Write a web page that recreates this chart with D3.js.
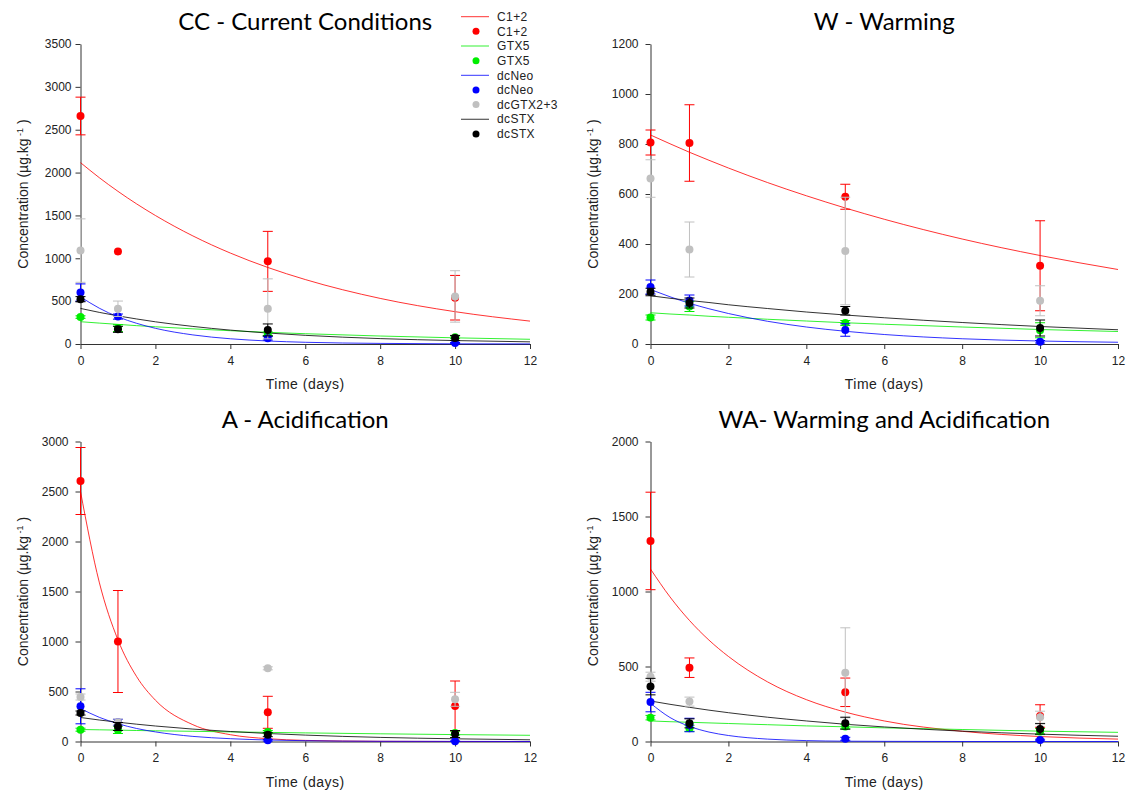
<!DOCTYPE html>
<html>
<head>
<meta charset="utf-8">
<script src="https://cdn.jsdelivr.net/npm/d3@7/dist/d3.min.js"></script>
<style>
body { margin: 0; background: #fff; }
svg text { font-family: "Liberation Sans", Arial, sans-serif; fill: #222; }
svg text.title { font-family: Lato, "Open Sans", sans-serif; fill: #000; }
</style>
</head>
<body>
<div id="chart"></div>
<script>
// sampling days and fitted-curve readout days
var days = [0, 1, 5, 10];
var fitDays = [0, 0.5, 1, 1.5, 2, 3, 4, 5, 6, 8, 10, 12];
var xTicks = [0, 2, 4, 6, 8, 10, 12];
var toxins = ["C1+2", "GTX5", "dcNeo", "dcGTX2+3", "dcSTX"];
var fitted = ["C1+2", "GTX5", "dcNeo", "dcSTX"];

// CC - current conditions (rows follow toxins)
var ccMean = [[2660, 1080, 964, 540], [314, 185, 120, 78], [601, 320, 66, 12], [1090, 411, 410, 555], [523, 171, 164, 70]];
var ccSd = [[220, 0, 350, 260], [15, 40, 20, 15], [100, 30, 20, 5], [370, 90, 350, 300], [30, 35, 70, 30]];
var ccFit = [
  [2116, 1941, 1781, 1634, 1499, 1261, 1061, 893, 752, 532, 377, 267],
  [260, 244, 229, 214, 201, 177, 155, 136, 120, 93, 72, 55],
  [550, 418, 317, 241, 183, 106, 61, 35, 20, 7, 2, 1],
  [415, 369, 328, 292, 259, 205, 162, 128, 101, 63, 40, 25]];

// W - warming
var wMean = [[806, 804, 589, 313], [106, 150, 84, 55], [228, 174, 56, 9], [662, 378, 372, 173], [208, 164, 133, 64]];
var wSd = [[50, 153, 50, 180], [10, 20, 10, 30], [28, 22, 25, 5], [75, 110, 215, 60], [15, 20, 17, 32]];
var wFit = [
  [836, 801, 767, 735, 704, 646, 593, 544, 499, 420, 354, 298],
  [125, 120, 116, 111, 107, 99, 92, 85, 79, 68, 58, 50],
  [218, 189, 163, 141, 122, 91, 68, 51, 38, 21, 12, 7],
  [193, 183, 174, 166, 157, 142, 128, 116, 105, 86, 70, 57]];

// A - acidification
var aMean = [[2605, 1000, 292, 355], [118, 115, 95, 85], [352, 192, 12, 3], [445, 190, 732, 422], [285, 150, 68, 75]];
var aSd = [[335, 510, 160, 250], [15, 35, 15, 20], [175, 30, 8, 3], [30, 35, 15, 70], [20, 40, 20, 35]];
var aFit = [
  [2500, 1594, 1016, 648, 413, 168, 68, 28, 11, 2, 0, 0],
  [120, 117, 114, 110, 107, 102, 96, 91, 86, 77, 69, 62],
  [330, 242, 178, 130, 96, 51, 28, 15, 8, 2, 1, 0],
  [240, 215, 193, 173, 155, 124, 100, 80, 64, 41, 27, 17]];

// WA - warming and acidification
var waMean = [[1337, 492, 328, 170], [159, 88, 100, 66], [263, 110, 18, 10], [432, 266, 458, 162], [366, 121, 122, 84]];
var waSd = [[325, 65, 95, 75], [15, 20, 15, 20], [65, 45, 10, 5], [30, 30, 300, 40], [55, 30, 40, 35]];
var waFit = [
  [1150, 964, 807, 676, 567, 398, 279, 196, 137, 68, 33, 16],
  [137, 132, 128, 124, 120, 112, 104, 98, 91, 80, 69, 61],
  [255, 160, 101, 63, 40, 16, 6, 2, 1, 0, 0, 0],
  [270, 248, 228, 209, 192, 162, 137, 115, 97, 69, 49, 35]];

var legendRows = [
  ["C1+2", "line"], ["C1+2", "dot"], ["GTX5", "line"], ["GTX5", "dot"],
  ["dcNeo", "line"], ["dcNeo", "dot"], ["dcGTX2+3", "dot"], ["dcSTX", "line"], ["dcSTX", "dot"]];

var color = {"C1+2": "#ff0000", "GTX5": "#00ee00", "dcNeo": "#0000ff", "dcGTX2+3": "#c0c0c0", "dcSTX": "#000000"};

var panels = [
  {title: "CC - Current Conditions", mean: ccMean, sd: ccSd, fit: ccFit, ymax: 3500, ystep: 500, l: 80.5, t: 44, r: 530, b: 344, pad: 4},
  {title: "W - Warming", mean: wMean, sd: wSd, fit: wFit, ymax: 1200, ystep: 200, l: 650.5, t: 44, r: 1118, b: 344, pad: 7},
  {title: "A - Acidification", mean: aMean, sd: aSd, fit: aFit, ymax: 3000, ystep: 500, l: 80.5, t: 441.5, r: 530, b: 741.5, pad: 7},
  {title: "WA- Warming and Acidification", mean: waMean, sd: waSd, fit: waFit, ymax: 2000, ystep: 500, l: 650.5, t: 441.5, r: 1118, b: 741.5, pad: 7}
];

var svg = d3.select("#chart").append("svg")
    .attr("width", 1129).attr("height", 794);

panels.forEach(function(p) {
  var x = d3.scaleLinear().domain([0, 12]).range([p.l, p.r]),
      y = d3.scaleLinear().domain([0, p.ymax]).range([p.b, p.t]);
  var g = svg.append("g");

  g.append("text").attr("class", "title")
      .attr("x", (p.l + p.r) / 2).attr("y", p.b - 314)
      .attr("text-anchor", "middle").attr("font-size", 24)
      .text(p.title);

  var yAxis = d3.axisLeft(y).tickValues(d3.range(0, p.ymax + 1, p.ystep))
      .tickSize(5).tickSizeOuter(0).tickPadding(p.pad).tickFormat(d3.format("d"));
  var xAxis = d3.axisBottom(x).tickValues(xTicks)
      .tickSize(5).tickSizeOuter(0).tickPadding(7);

  var ya = g.append("g").attr("transform", "translate(" + p.l + ",0)").call(yAxis);
  var xa = g.append("g").attr("transform", "translate(0," + p.b + ")").call(xAxis);
  [ya, xa].forEach(function(a) {
    a.selectAll("path, line").attr("stroke", "#333");
    a.selectAll("text").attr("font-size", 12).attr("fill", "#222");
  });

  g.append("text")
      .attr("x", (p.l + p.r) / 2).attr("y", p.b + 45)
      .attr("text-anchor", "middle").attr("font-size", 14).attr("letter-spacing", 0.5)
      .text("Time (days)");

  var yl = g.append("text")
      .attr("transform", "translate(" + (p.l - 53) + "," + ((p.t + p.b) / 2) + ") rotate(-90)")
      .attr("text-anchor", "middle").attr("font-size", 14);
  yl.append("tspan").text("Concentration (\u00b5g.kg");
  yl.append("tspan").attr("font-size", 9).attr("baseline-shift", "super").text(" -1");
  yl.append("tspan").text(" )");

  // fitted decay curves
  var line = d3.line()
      .x(function(d) { return x(d[0]); })
      .y(function(d) { return y(d[1]); })
      .curve(d3.curveMonotoneX);
  fitted.forEach(function(name, k) {
    g.append("path")
        .datum(fitDays.map(function(t, i) { return [t, p.fit[k][i]]; }))
        .attr("fill", "none").attr("stroke", color[name])
        .attr("stroke-opacity", 0.8).attr("stroke-width", 1)
        .attr("d", line);
  });

  // measured means with error bars
  toxins.forEach(function(name, k) {
    var s = g.append("g").attr("stroke", color[name]).attr("fill", color[name]);
    days.forEach(function(t, i) {
      var m = p.mean[k][i], e = p.sd[k][i], cx = x(t);
      if (e > 0) {
        var y1 = y(m + e), y0 = y(Math.max(0, m - e));
        s.append("line").attr("x1", cx).attr("x2", cx).attr("y1", y1).attr("y2", y0);
        s.append("line").attr("x1", cx - 5).attr("x2", cx + 5).attr("y1", y1).attr("y2", y1);
        s.append("line").attr("x1", cx - 5).attr("x2", cx + 5).attr("y1", y0).attr("y2", y0);
      }
      s.append("circle").attr("cx", cx).attr("cy", y(m)).attr("r", 4).attr("stroke", "none");
    });
  });
});

// legend (top-left panel only)
var leg = svg.append("g");
legendRows.forEach(function(row, i) {
  var yy = 16.7 + i * 14.65;
  if (row[1] === "line") {
    leg.append("line").attr("x1", 461).attr("x2", 489).attr("y1", yy).attr("y2", yy)
        .attr("stroke", color[row[0]]).attr("stroke-opacity", 0.8);
  } else {
    leg.append("circle").attr("cx", 476).attr("cy", yy).attr("r", 3.5).attr("fill", color[row[0]]);
  }
  leg.append("text").attr("x", 497).attr("y", yy).attr("dy", "0.35em")
      .attr("font-size", 12).attr("letter-spacing", 0.4).text(row[0]);
});
</script>
</body>
</html>
